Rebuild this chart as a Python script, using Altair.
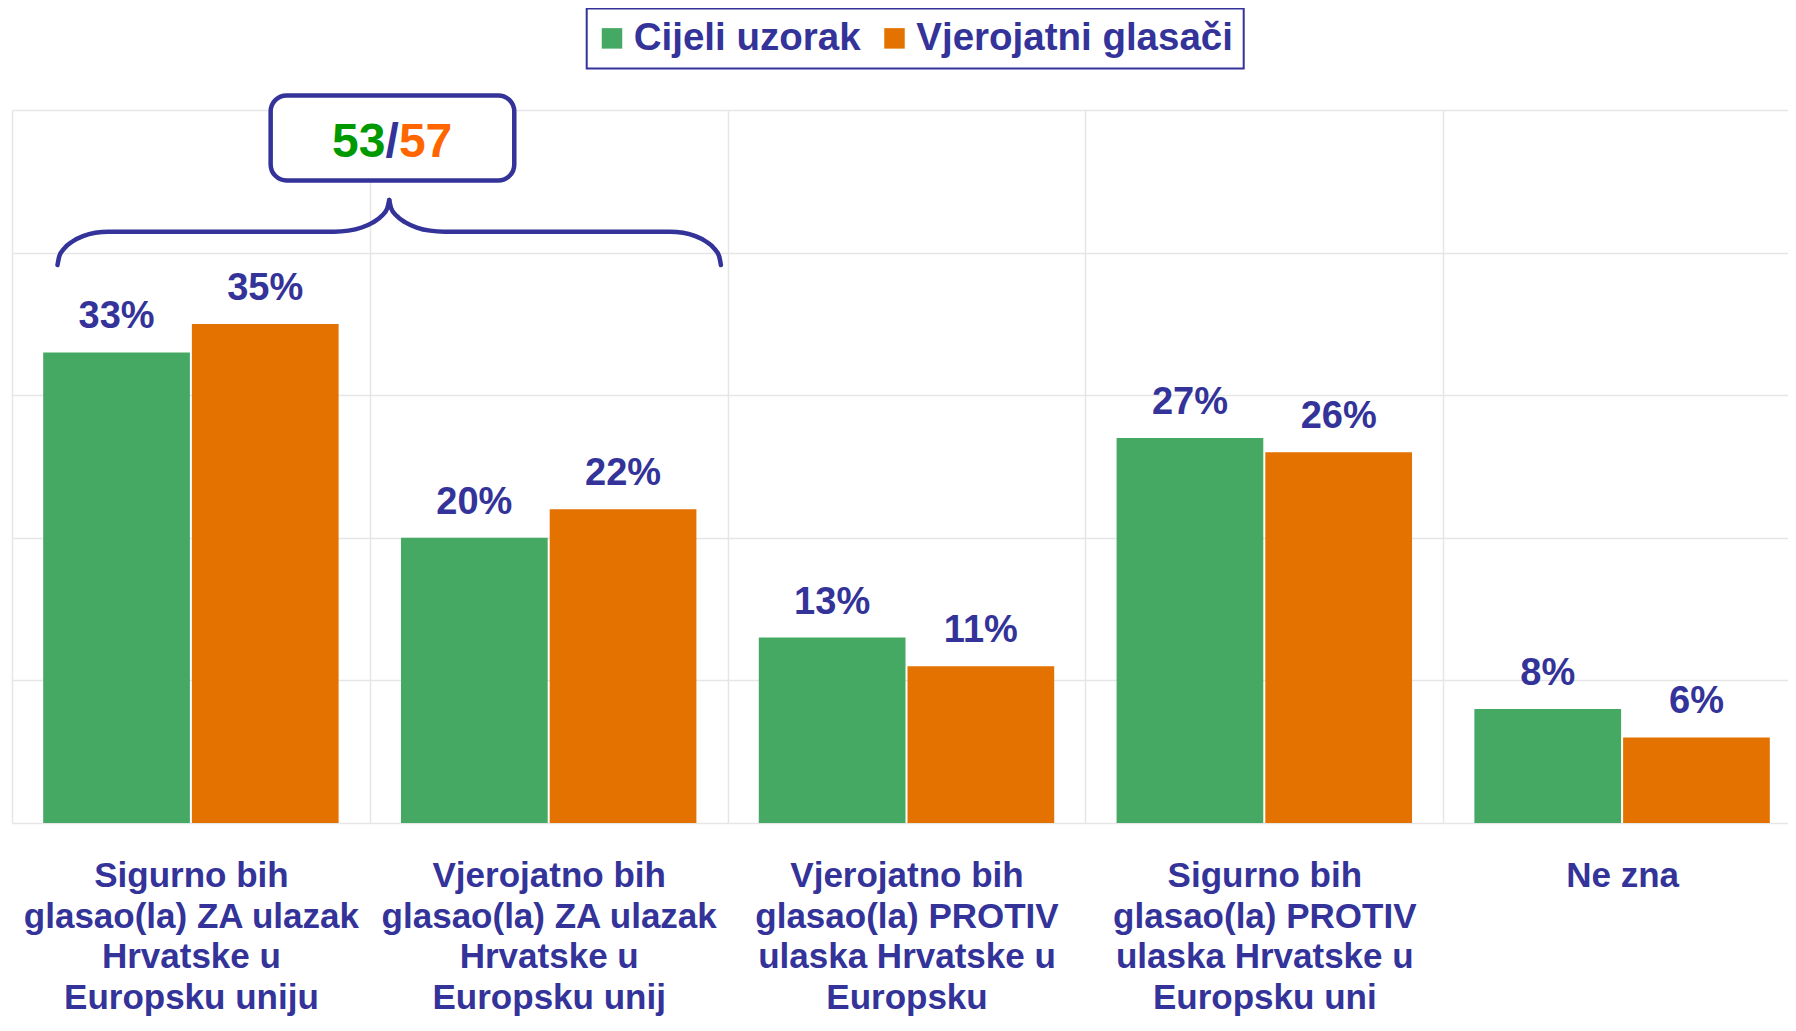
import altair as alt
import pandas as pd

# ---------------- data ----------------
categories = [
    "Sigurno bih|glasao(la) ZA ulazak|Hrvatske u|Europsku uniju",
    "Vjerojatno bih|glasao(la) ZA ulazak|Hrvatske u|Europsku unij",
    "Vjerojatno bih|glasao(la) PROTIV|ulaska Hrvatske u|Europsku",
    "Sigurno bih|glasao(la) PROTIV|ulaska Hrvatske u|Europsku uni",
    "Ne zna",
]
series = ["Cijeli uzorak", "Vjerojatni glasači"]
cijeli_uzorak = [33, 20, 13, 27, 8]
vjerojatni_glasaci = [35, 22, 11, 26, 6]
series_colors = ["#46A963", "#E47200"]

# annotation: "53/57" callout over the first two categories
summary_parts = ["53", "/", "57"]
summary_colors = ["#009900", "#333399", "#FF6600"]
summary_pos = [1.0626, 46.72]          # (category units, %)
box_x = [0.7229, 1.4038]               # category units
box_y = [45.06, 51.02]                 # %
brace_left_x = [0.1272, 0.1320, 0.1463, 0.1689, 0.1985, 0.2329, 0.2699,
                0.9004, 0.9402, 0.9773, 1.0092, 1.0336, 1.0489, 1.0543]
brace_left_y = [39.13, 39.73, 40.30, 40.78, 41.15, 41.39, 41.47,
                41.47, 41.54, 41.76, 42.12, 42.58, 43.11, 43.69]
brace_right_x = [1.0543, 1.0596, 1.0749, 1.0993, 1.1312, 1.1683, 1.2081,
                 1.8386, 1.8756, 1.9100, 1.9396, 1.9622, 1.9765, 1.9813]
brace_right_y = [43.69, 43.11, 42.58, 42.12, 41.76, 41.54, 41.47,
                 41.47, 41.39, 41.15, 40.78, 40.30, 39.73, 39.13]

NAVY = "#333399"
GRID = "#E6E6E6"
FONT = "Liberation Sans"
XRANGE = [0, 1789]   # plot runs a little past the right edge, as in the reference

# ---------------- tables ----------------
rows = []
for s, vals in zip(series, [cijeli_uzorak, vjerojatni_glasaci]):
    for c, v in zip(categories, vals):
        rows.append({"category": c, "series": s, "value": v, "label": f"{v}%"})
bars_df = pd.DataFrame(rows)

brace_df = pd.DataFrame(
    [{"bx": x, "by": y, "half": "L"} for x, y in zip(brace_left_x, brace_left_y)]
    + [{"bx": x, "by": y, "half": "R"} for x, y in zip(brace_right_x, brace_right_y)]
)
box_df = pd.DataFrame([{"x1": box_x[0], "x2": box_x[1], "y1": box_y[0], "y2": box_y[1]}])

yscale = alt.Scale(domain=[0, 50], nice=False, zero=True)
y_axis = alt.Axis(title=None, labels=False, ticks=False, domain=False,
                  values=[0, 10, 20, 30, 40, 50], gridColor=GRID, gridWidth=1.5)
qx = alt.Scale(domain=[0, 5], nice=False, zero=False, range=XRANGE)

x_band = alt.X(
    "category:N",
    sort=categories,
    scale=alt.Scale(paddingInner=0, paddingOuter=0, range=XRANGE),
    axis=alt.Axis(
        title=None, labelAngle=0, labelExpr="split(datum.label, '|')",
        labelFont=FONT, labelFontSize=35, labelFontWeight="bold", labelColor=NAVY,
        labelLineHeight=40.5, labelPadding=35.5, labelBaseline="top",
        labelLimit=600, labelOverlap=False, labelBound=False,
        ticks=False, tickSize=0, domain=False,
        grid=True, tickBand="extent", gridColor=GRID, gridWidth=1.5,
    ),
)
y_val = alt.Y("value:Q", scale=yscale, axis=y_axis)
x_off = alt.XOffset("series:N", sort=series,
                    scale=alt.Scale(paddingInner=0.0135, paddingOuter=0.2097))

bars = alt.Chart(bars_df).mark_bar().encode(
    x=x_band, xOffset=x_off, y=y_val,
    color=alt.Color(
        "series:N", sort=series,
        scale=alt.Scale(domain=series, range=series_colors),
        legend=alt.Legend(
            title=None, orient="none", legendX=574.7, legendY=-101.5,
            direction="horizontal", symbolType="square", symbolSize=420,
            symbolStrokeWidth=0, symbolOpacity=1,
            labelFont=FONT, labelFontSize=38.5, labelFontWeight="bold",
            labelColor=NAVY, labelOffset=2.5, columnPadding=18.5, padding=10.5,
            strokeColor=NAVY, symbolOffset=-4.45, labelLimit=600,
        ),
    ),
)
values_txt = alt.Chart(bars_df).mark_text(
    dy=-24, baseline="alphabetic", font=FONT, fontSize=38,
    fontWeight="bold", color=NAVY,
).encode(x=x_band, xOffset=x_off, y=y_val, text="label:N")

base = alt.layer(bars, values_txt)

brace = alt.Chart(brace_df).mark_line(
    color=NAVY, strokeWidth=4.5, interpolate="monotone", strokeCap="round"
).encode(
    x=alt.X("bx:Q", scale=qx, axis=None),
    y=alt.Y("by:Q", scale=yscale, axis=y_axis),
    detail="half:N",
)
box = alt.Chart(box_df).mark_rect(
    cornerRadius=16, fill="white", stroke=NAVY, strokeWidth=4.5
).encode(
    x=alt.X("x1:Q", scale=qx, axis=None), x2="x2",
    y=alt.Y("y1:Q", scale=yscale, axis=y_axis), y2="y2",
)

aligns = ["right", "center", "left"]
dxs = [-6.7, 0, 6.7]
summary_layers = []
for part, col, al, dx in zip(summary_parts, summary_colors, aligns, dxs):
    df = pd.DataFrame([{"sx": summary_pos[0], "sy": summary_pos[1], "t": part}])
    summary_layers.append(
        alt.Chart(df).mark_text(
            align=al, dx=dx, baseline="alphabetic", font=FONT, fontSize=48,
            fontWeight="bold", color=col,
        ).encode(
            x=alt.X("sx:Q", scale=qx, axis=None),
            y=alt.Y("sy:Q", scale=yscale, axis=y_axis),
            text="t:N",
        )
    )

annot = alt.layer(brace, box, *summary_layers)

chart = alt.layer(base, annot).resolve_scale(x="independent").properties(
    width=1776, height=713,
    padding={"left": 4, "top": 102, "right": 0, "bottom": 193},
    autosize=alt.AutoSizeParams(type="none"),
).configure_view(strokeWidth=0).configure_legend(strokeWidth=2)

chart.save("out.html", embed_options={"renderer": "svg", "actions": False})
